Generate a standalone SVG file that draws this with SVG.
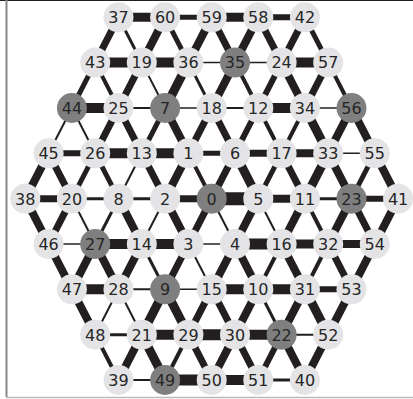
<svg xmlns="http://www.w3.org/2000/svg" width="413" height="399" viewBox="0 0 413 399">
<style>
.e{stroke:#231f20;fill:none}
.w1{stroke-width:1.5}.w2{stroke-width:2}.w3{stroke-width:3}.w4{stroke-width:4}.w5{stroke-width:5}.w6{stroke-width:6}.w7{stroke-width:7}.w8{stroke-width:8}.w9{stroke-width:9}.w10{stroke-width:10}.w11{stroke-width:11}.w13{stroke-width:13}
.n circle{fill:#e4e4e6;stroke:none}
.d circle{fill:#7f7f7f;stroke:none}
text{font-family:"DejaVu Sans","Liberation Sans",sans-serif;font-size:16px;fill:#262626;text-anchor:middle}
</style>
<rect x="0" y="0" width="413" height="399" fill="#ffffff"/>
<g id="frame">
<line x1="0" y1="0.5" x2="413" y2="0.5" stroke="#222" stroke-width="1"/>
<line x1="6.5" y1="0" x2="6.5" y2="397" stroke="#888" stroke-width="2"/>
<line x1="6" y1="397.5" x2="413" y2="397.5" stroke="#bbb" stroke-width="1.5"/>
</g>
<g id="edges">
<!-- row 0 horizontal -->
<line class="e w9" x1="118.5" y1="17.3" x2="165.1" y2="17.3"/>
<line class="e w5" x1="165.1" y1="17.3" x2="211.7" y2="17.3"/>
<line class="e w9" x1="211.7" y1="17.3" x2="258.3" y2="17.3"/>
<line class="e w6" x1="258.3" y1="17.3" x2="304.9" y2="17.3"/>
<!-- row 1 horizontal -->
<line class="e w10" x1="95.2" y1="62.6" x2="141.8" y2="62.6"/>
<line class="e w10" x1="141.8" y1="62.6" x2="188.4" y2="62.6"/>
<line class="e w1" x1="188.4" y1="62.6" x2="235" y2="62.6"/>
<line class="e w1" x1="235" y1="62.6" x2="281.6" y2="62.6"/>
<line class="e w10" x1="281.6" y1="62.6" x2="328.2" y2="62.6"/>
<!-- row 2 horizontal -->
<line class="e w10" x1="71.9" y1="108" x2="118.5" y2="108"/>
<line class="e w2" x1="118.5" y1="108" x2="165.1" y2="108"/>
<line class="e w1" x1="165.1" y1="108" x2="211.7" y2="108"/>
<line class="e w2" x1="211.7" y1="108" x2="258.3" y2="108"/>
<line class="e w10" x1="258.3" y1="108" x2="304.9" y2="108"/>
<line class="e w1" x1="304.9" y1="108" x2="351.5" y2="108"/>
<!-- row 3 horizontal -->
<line class="e w6" x1="48.6" y1="153.3" x2="95.2" y2="153.3"/>
<line class="e w10" x1="95.2" y1="153.3" x2="141.8" y2="153.3"/>
<line class="e w10" x1="141.8" y1="153.3" x2="188.4" y2="153.3"/>
<line class="e w5" x1="188.4" y1="153.3" x2="235" y2="153.3"/>
<line class="e w7" x1="235" y1="153.3" x2="281.6" y2="153.3"/>
<line class="e w8" x1="281.6" y1="153.3" x2="328.2" y2="153.3"/>
<line class="e w1" x1="328.2" y1="153.3" x2="374.8" y2="153.3"/>
<!-- row 4 horizontal -->
<line class="e w7" x1="25.3" y1="198.7" x2="71.9" y2="198.7"/>
<line class="e w3" x1="71.9" y1="198.7" x2="118.5" y2="198.7"/>
<line class="e w3" x1="118.5" y1="198.7" x2="165.1" y2="198.7"/>
<line class="e w7" x1="165.1" y1="198.7" x2="211.7" y2="198.7"/>
<line class="e w13" x1="211.7" y1="198.7" x2="258.3" y2="198.7"/>
<line class="e w8" x1="258.3" y1="198.7" x2="304.9" y2="198.7"/>
<line class="e w3" x1="304.9" y1="198.7" x2="351.5" y2="198.7"/>
<line class="e w6" x1="351.5" y1="198.7" x2="398.1" y2="198.7"/>
<!-- row 5 horizontal -->
<line class="e w1" x1="48.6" y1="244" x2="95.2" y2="244"/>
<line class="e w10" x1="95.2" y1="244" x2="141.8" y2="244"/>
<line class="e w10" x1="141.8" y1="244" x2="188.4" y2="244"/>
<line class="e w1" x1="188.4" y1="244" x2="235" y2="244"/>
<line class="e w11" x1="235" y1="244" x2="281.6" y2="244"/>
<line class="e w9" x1="281.6" y1="244" x2="328.2" y2="244"/>
<line class="e w8" x1="328.2" y1="244" x2="374.8" y2="244"/>
<!-- row 6 horizontal -->
<line class="e w10" x1="71.9" y1="289.3" x2="118.5" y2="289.3"/>
<line class="e w2" x1="118.5" y1="289.3" x2="165.1" y2="289.3"/>
<line class="e w1" x1="165.1" y1="289.3" x2="211.7" y2="289.3"/>
<line class="e w10" x1="211.7" y1="289.3" x2="258.3" y2="289.3"/>
<line class="e w10" x1="258.3" y1="289.3" x2="304.9" y2="289.3"/>
<line class="e w6" x1="304.9" y1="289.3" x2="351.5" y2="289.3"/>
<!-- row 7 horizontal -->
<line class="e w3" x1="95.2" y1="334.7" x2="141.8" y2="334.7"/>
<line class="e w10" x1="141.8" y1="334.7" x2="188.4" y2="334.7"/>
<line class="e w11" x1="188.4" y1="334.7" x2="235" y2="334.7"/>
<line class="e w10" x1="235" y1="334.7" x2="281.6" y2="334.7"/>
<line class="e w2" x1="281.6" y1="334.7" x2="328.2" y2="334.7"/>
<!-- row 8 horizontal -->
<line class="e w2" x1="118.5" y1="380" x2="165.1" y2="380"/>
<line class="e w11" x1="165.1" y1="380" x2="211.7" y2="380"/>
<line class="e w10" x1="211.7" y1="380" x2="258.3" y2="380"/>
<line class="e w3" x1="258.3" y1="380" x2="304.9" y2="380"/>
<!-- rows 0-1 -->
<line class="e w7" x1="118.5" y1="17.3" x2="95.2" y2="62.6"/>
<line class="e w3" x1="118.5" y1="17.3" x2="141.8" y2="62.6"/>
<line class="e w8" x1="165.1" y1="17.3" x2="141.8" y2="62.6"/>
<line class="e w5" x1="165.1" y1="17.3" x2="188.4" y2="62.6"/>
<line class="e w8" x1="211.7" y1="17.3" x2="188.4" y2="62.6"/>
<line class="e w7" x1="211.7" y1="17.3" x2="235" y2="62.6"/>
<line class="e w8" x1="258.3" y1="17.3" x2="235" y2="62.6"/>
<line class="e w7" x1="258.3" y1="17.3" x2="281.6" y2="62.6"/>
<line class="e w7" x1="304.9" y1="17.3" x2="281.6" y2="62.6"/>
<line class="e w5" x1="304.9" y1="17.3" x2="328.2" y2="62.6"/>
<!-- rows 1-2 -->
<line class="e w5" x1="95.2" y1="62.6" x2="71.9" y2="108"/>
<line class="e w4" x1="95.2" y1="62.6" x2="118.5" y2="108"/>
<line class="e w7" x1="141.8" y1="62.6" x2="118.5" y2="108"/>
<line class="e w2" x1="141.8" y1="62.6" x2="165.1" y2="108"/>
<line class="e w9" x1="188.4" y1="62.6" x2="165.1" y2="108"/>
<line class="e w3" x1="188.4" y1="62.6" x2="211.7" y2="108"/>
<line class="e w8" x1="235" y1="62.6" x2="211.7" y2="108"/>
<line class="e w4" x1="235" y1="62.6" x2="258.3" y2="108"/>
<line class="e w6" x1="281.6" y1="62.6" x2="258.3" y2="108"/>
<line class="e w8" x1="281.6" y1="62.6" x2="304.9" y2="108"/>
<line class="e w7" x1="328.2" y1="62.6" x2="304.9" y2="108"/>
<line class="e w4" x1="328.2" y1="62.6" x2="351.5" y2="108"/>
<!-- rows 2-3 -->
<line class="e w2" x1="71.9" y1="108" x2="48.6" y2="153.3"/>
<line class="e w2" x1="71.9" y1="108" x2="95.2" y2="153.3"/>
<line class="e w7" x1="118.5" y1="108" x2="95.2" y2="153.3"/>
<line class="e w7" x1="118.5" y1="108" x2="141.8" y2="153.3"/>
<line class="e w5" x1="165.1" y1="108" x2="141.8" y2="153.3"/>
<line class="e w8" x1="165.1" y1="108" x2="188.4" y2="153.3"/>
<line class="e w7" x1="211.7" y1="108" x2="188.4" y2="153.3"/>
<line class="e w7" x1="211.7" y1="108" x2="235" y2="153.3"/>
<line class="e w6" x1="258.3" y1="108" x2="235" y2="153.3"/>
<line class="e w4" x1="258.3" y1="108" x2="281.6" y2="153.3"/>
<line class="e w4" x1="304.9" y1="108" x2="281.6" y2="153.3"/>
<line class="e w9" x1="304.9" y1="108" x2="328.2" y2="153.3"/>
<line class="e w8" x1="351.5" y1="108" x2="328.2" y2="153.3"/>
<line class="e w8" x1="351.5" y1="108" x2="374.8" y2="153.3"/>
<!-- rows 3-4 -->
<line class="e w8" x1="48.6" y1="153.3" x2="25.3" y2="198.7"/>
<line class="e w7" x1="48.6" y1="153.3" x2="71.9" y2="198.7"/>
<line class="e w5" x1="95.2" y1="153.3" x2="71.9" y2="198.7"/>
<line class="e w5" x1="95.2" y1="153.3" x2="118.5" y2="198.7"/>
<line class="e w2" x1="141.8" y1="153.3" x2="118.5" y2="198.7"/>
<line class="e w7" x1="141.8" y1="153.3" x2="165.1" y2="198.7"/>
<line class="e w8" x1="188.4" y1="153.3" x2="165.1" y2="198.7"/>
<line class="e w4" x1="188.4" y1="153.3" x2="211.7" y2="198.7"/>
<line class="e w7" x1="235" y1="153.3" x2="211.7" y2="198.7"/>
<line class="e w9" x1="235" y1="153.3" x2="258.3" y2="198.7"/>
<line class="e w5" x1="281.6" y1="153.3" x2="258.3" y2="198.7"/>
<line class="e w7" x1="281.6" y1="153.3" x2="304.9" y2="198.7"/>
<line class="e w9" x1="328.2" y1="153.3" x2="304.9" y2="198.7"/>
<line class="e w8" x1="328.2" y1="153.3" x2="351.5" y2="198.7"/>
<line class="e w5" x1="374.8" y1="153.3" x2="351.5" y2="198.7"/>
<line class="e w8" x1="374.8" y1="153.3" x2="398.1" y2="198.7"/>
<!-- rows 4-5 -->
<line class="e w8" x1="25.3" y1="198.7" x2="48.6" y2="244"/>
<line class="e w7" x1="71.9" y1="198.7" x2="48.6" y2="244"/>
<line class="e w2" x1="71.9" y1="198.7" x2="95.2" y2="244"/>
<line class="e w3" x1="118.5" y1="198.7" x2="95.2" y2="244"/>
<line class="e w8" x1="118.5" y1="198.7" x2="141.8" y2="244"/>
<line class="e w2" x1="165.1" y1="198.7" x2="141.8" y2="244"/>
<line class="e w8" x1="165.1" y1="198.7" x2="188.4" y2="244"/>
<line class="e w7" x1="211.7" y1="198.7" x2="188.4" y2="244"/>
<line class="e w2" x1="211.7" y1="198.7" x2="235" y2="244"/>
<line class="e w8" x1="258.3" y1="198.7" x2="235" y2="244"/>
<line class="e w2" x1="258.3" y1="198.7" x2="281.6" y2="244"/>
<line class="e w8" x1="304.9" y1="198.7" x2="281.6" y2="244"/>
<line class="e w4" x1="304.9" y1="198.7" x2="328.2" y2="244"/>
<line class="e w8" x1="351.5" y1="198.7" x2="328.2" y2="244"/>
<line class="e w7" x1="351.5" y1="198.7" x2="374.8" y2="244"/>
<line class="e w8" x1="398.1" y1="198.7" x2="374.8" y2="244"/>
<!-- rows 5-6 -->
<line class="e w8" x1="48.6" y1="244" x2="71.9" y2="289.3"/>
<line class="e w8" x1="95.2" y1="244" x2="71.9" y2="289.3"/>
<line class="e w8" x1="95.2" y1="244" x2="118.5" y2="289.3"/>
<line class="e w8" x1="141.8" y1="244" x2="118.5" y2="289.3"/>
<line class="e w3" x1="141.8" y1="244" x2="165.1" y2="289.3"/>
<line class="e w7" x1="188.4" y1="244" x2="165.1" y2="289.3"/>
<line class="e w2" x1="188.4" y1="244" x2="211.7" y2="289.3"/>
<line class="e w8" x1="235" y1="244" x2="211.7" y2="289.3"/>
<line class="e w8" x1="235" y1="244" x2="258.3" y2="289.3"/>
<line class="e w4" x1="281.6" y1="244" x2="258.3" y2="289.3"/>
<line class="e w8" x1="281.6" y1="244" x2="304.9" y2="289.3"/>
<line class="e w4" x1="328.2" y1="244" x2="304.9" y2="289.3"/>
<line class="e w7" x1="328.2" y1="244" x2="351.5" y2="289.3"/>
<line class="e w8" x1="374.8" y1="244" x2="351.5" y2="289.3"/>
<!-- rows 6-7 -->
<line class="e w8" x1="71.9" y1="289.3" x2="95.2" y2="334.7"/>
<line class="e w2" x1="118.5" y1="289.3" x2="95.2" y2="334.7"/>
<line class="e w2" x1="118.5" y1="289.3" x2="141.8" y2="334.7"/>
<line class="e w9" x1="165.1" y1="289.3" x2="141.8" y2="334.7"/>
<line class="e w9" x1="165.1" y1="289.3" x2="188.4" y2="334.7"/>
<line class="e w7" x1="211.7" y1="289.3" x2="188.4" y2="334.7"/>
<line class="e w7" x1="211.7" y1="289.3" x2="235" y2="334.7"/>
<line class="e w8" x1="258.3" y1="289.3" x2="235" y2="334.7"/>
<line class="e w3" x1="258.3" y1="289.3" x2="281.6" y2="334.7"/>
<line class="e w8" x1="304.9" y1="289.3" x2="281.6" y2="334.7"/>
<line class="e w9" x1="304.9" y1="289.3" x2="328.2" y2="334.7"/>
<line class="e w8" x1="351.5" y1="289.3" x2="328.2" y2="334.7"/>
<!-- rows 7-8 -->
<line class="e w4" x1="95.2" y1="334.7" x2="118.5" y2="380"/>
<line class="e w8" x1="141.8" y1="334.7" x2="118.5" y2="380"/>
<line class="e w9" x1="141.8" y1="334.7" x2="165.1" y2="380"/>
<line class="e w4" x1="188.4" y1="334.7" x2="165.1" y2="380"/>
<line class="e w7" x1="188.4" y1="334.7" x2="211.7" y2="380"/>
<line class="e w8" x1="235" y1="334.7" x2="211.7" y2="380"/>
<line class="e w7" x1="235" y1="334.7" x2="258.3" y2="380"/>
<line class="e w6" x1="281.6" y1="334.7" x2="258.3" y2="380"/>
<line class="e w8" x1="281.6" y1="334.7" x2="304.9" y2="380"/>
<line class="e w8" x1="328.2" y1="334.7" x2="304.9" y2="380"/>
</g>
<g id="nodes">
<g id="n37" class="n"><circle cx="118.5" cy="17.3" r="15"/><text x="118.5" y="23.1">37</text></g>
<g id="n60" class="n"><circle cx="165.1" cy="17.3" r="15"/><text x="165.1" y="23.1">60</text></g>
<g id="n59" class="n"><circle cx="211.7" cy="17.3" r="15"/><text x="211.7" y="23.1">59</text></g>
<g id="n58" class="n"><circle cx="258.3" cy="17.3" r="15"/><text x="258.3" y="23.1">58</text></g>
<g id="n42" class="n"><circle cx="304.9" cy="17.3" r="15"/><text x="304.9" y="23.1">42</text></g>
<g id="n43" class="n"><circle cx="95.2" cy="62.6" r="15"/><text x="95.2" y="68.4">43</text></g>
<g id="n19" class="n"><circle cx="141.8" cy="62.6" r="15"/><text x="141.8" y="68.4">19</text></g>
<g id="n36" class="n"><circle cx="188.4" cy="62.6" r="15"/><text x="188.4" y="68.4">36</text></g>
<g id="n35" class="d"><circle cx="235" cy="62.6" r="15"/><text x="235" y="68.4">35</text></g>
<g id="n24" class="n"><circle cx="281.6" cy="62.6" r="15"/><text x="281.6" y="68.4">24</text></g>
<g id="n57" class="n"><circle cx="328.2" cy="62.6" r="15"/><text x="328.2" y="68.4">57</text></g>
<g id="n44" class="d"><circle cx="71.9" cy="108" r="15"/><text x="71.9" y="113.8">44</text></g>
<g id="n25" class="n"><circle cx="118.5" cy="108" r="15"/><text x="118.5" y="113.8">25</text></g>
<g id="n7" class="d"><circle cx="165.1" cy="108" r="15"/><text x="165.1" y="113.8">7</text></g>
<g id="n18" class="n"><circle cx="211.7" cy="108" r="15"/><text x="211.7" y="113.8">18</text></g>
<g id="n12" class="n"><circle cx="258.3" cy="108" r="15"/><text x="258.3" y="113.8">12</text></g>
<g id="n34" class="n"><circle cx="304.9" cy="108" r="15"/><text x="304.9" y="113.8">34</text></g>
<g id="n56" class="d"><circle cx="351.5" cy="108" r="15"/><text x="351.5" y="113.8">56</text></g>
<g id="n45" class="n"><circle cx="48.6" cy="153.3" r="15"/><text x="48.6" y="159.1">45</text></g>
<g id="n26" class="n"><circle cx="95.2" cy="153.3" r="15"/><text x="95.2" y="159.1">26</text></g>
<g id="n13" class="n"><circle cx="141.8" cy="153.3" r="15"/><text x="141.8" y="159.1">13</text></g>
<g id="n1" class="n"><circle cx="188.4" cy="153.3" r="15"/><text x="188.4" y="159.1">1</text></g>
<g id="n6" class="n"><circle cx="235" cy="153.3" r="15"/><text x="235" y="159.1">6</text></g>
<g id="n17" class="n"><circle cx="281.6" cy="153.3" r="15"/><text x="281.6" y="159.1">17</text></g>
<g id="n33" class="n"><circle cx="328.2" cy="153.3" r="15"/><text x="328.2" y="159.1">33</text></g>
<g id="n55" class="n"><circle cx="374.8" cy="153.3" r="15"/><text x="374.8" y="159.1">55</text></g>
<g id="n38" class="n"><circle cx="25.3" cy="198.7" r="15"/><text x="25.3" y="204.5">38</text></g>
<g id="n20" class="n"><circle cx="71.9" cy="198.7" r="15"/><text x="71.9" y="204.5">20</text></g>
<g id="n8" class="n"><circle cx="118.5" cy="198.7" r="15"/><text x="118.5" y="204.5">8</text></g>
<g id="n2" class="n"><circle cx="165.1" cy="198.7" r="15"/><text x="165.1" y="204.5">2</text></g>
<g id="n0" class="d"><circle cx="211.7" cy="198.7" r="15"/><text x="211.7" y="204.5">0</text></g>
<g id="n5" class="n"><circle cx="258.3" cy="198.7" r="15"/><text x="258.3" y="204.5">5</text></g>
<g id="n11" class="n"><circle cx="304.9" cy="198.7" r="15"/><text x="304.9" y="204.5">11</text></g>
<g id="n23" class="d"><circle cx="351.5" cy="198.7" r="15"/><text x="351.5" y="204.5">23</text></g>
<g id="n41" class="n"><circle cx="398.1" cy="198.7" r="15"/><text x="398.1" y="204.5">41</text></g>
<g id="n46" class="n"><circle cx="48.6" cy="244" r="15"/><text x="48.6" y="249.8">46</text></g>
<g id="n27" class="d"><circle cx="95.2" cy="244" r="15"/><text x="95.2" y="249.8">27</text></g>
<g id="n14" class="n"><circle cx="141.8" cy="244" r="15"/><text x="141.8" y="249.8">14</text></g>
<g id="n3" class="n"><circle cx="188.4" cy="244" r="15"/><text x="188.4" y="249.8">3</text></g>
<g id="n4" class="n"><circle cx="235" cy="244" r="15"/><text x="235" y="249.8">4</text></g>
<g id="n16" class="n"><circle cx="281.6" cy="244" r="15"/><text x="281.6" y="249.8">16</text></g>
<g id="n32" class="n"><circle cx="328.2" cy="244" r="15"/><text x="328.2" y="249.8">32</text></g>
<g id="n54" class="n"><circle cx="374.8" cy="244" r="15"/><text x="374.8" y="249.8">54</text></g>
<g id="n47" class="n"><circle cx="71.9" cy="289.3" r="15"/><text x="71.9" y="295.1">47</text></g>
<g id="n28" class="n"><circle cx="118.5" cy="289.3" r="15"/><text x="118.5" y="295.1">28</text></g>
<g id="n9" class="d"><circle cx="165.1" cy="289.3" r="15"/><text x="165.1" y="295.1">9</text></g>
<g id="n15" class="n"><circle cx="211.7" cy="289.3" r="15"/><text x="211.7" y="295.1">15</text></g>
<g id="n10" class="n"><circle cx="258.3" cy="289.3" r="15"/><text x="258.3" y="295.1">10</text></g>
<g id="n31" class="n"><circle cx="304.9" cy="289.3" r="15"/><text x="304.9" y="295.1">31</text></g>
<g id="n53" class="n"><circle cx="351.5" cy="289.3" r="15"/><text x="351.5" y="295.1">53</text></g>
<g id="n48" class="n"><circle cx="95.2" cy="334.7" r="15"/><text x="95.2" y="340.5">48</text></g>
<g id="n21" class="n"><circle cx="141.8" cy="334.7" r="15"/><text x="141.8" y="340.5">21</text></g>
<g id="n29" class="n"><circle cx="188.4" cy="334.7" r="15"/><text x="188.4" y="340.5">29</text></g>
<g id="n30" class="n"><circle cx="235" cy="334.7" r="15"/><text x="235" y="340.5">30</text></g>
<g id="n22" class="d"><circle cx="281.6" cy="334.7" r="15"/><text x="281.6" y="340.5">22</text></g>
<g id="n52" class="n"><circle cx="328.2" cy="334.7" r="15"/><text x="328.2" y="340.5">52</text></g>
<g id="n39" class="n"><circle cx="118.5" cy="380" r="15"/><text x="118.5" y="385.8">39</text></g>
<g id="n49" class="d"><circle cx="165.1" cy="380" r="15"/><text x="165.1" y="385.8">49</text></g>
<g id="n50" class="n"><circle cx="211.7" cy="380" r="15"/><text x="211.7" y="385.8">50</text></g>
<g id="n51" class="n"><circle cx="258.3" cy="380" r="15"/><text x="258.3" y="385.8">51</text></g>
<g id="n40" class="n"><circle cx="304.9" cy="380" r="15"/><text x="304.9" y="385.8">40</text></g>
</g>
</svg>
